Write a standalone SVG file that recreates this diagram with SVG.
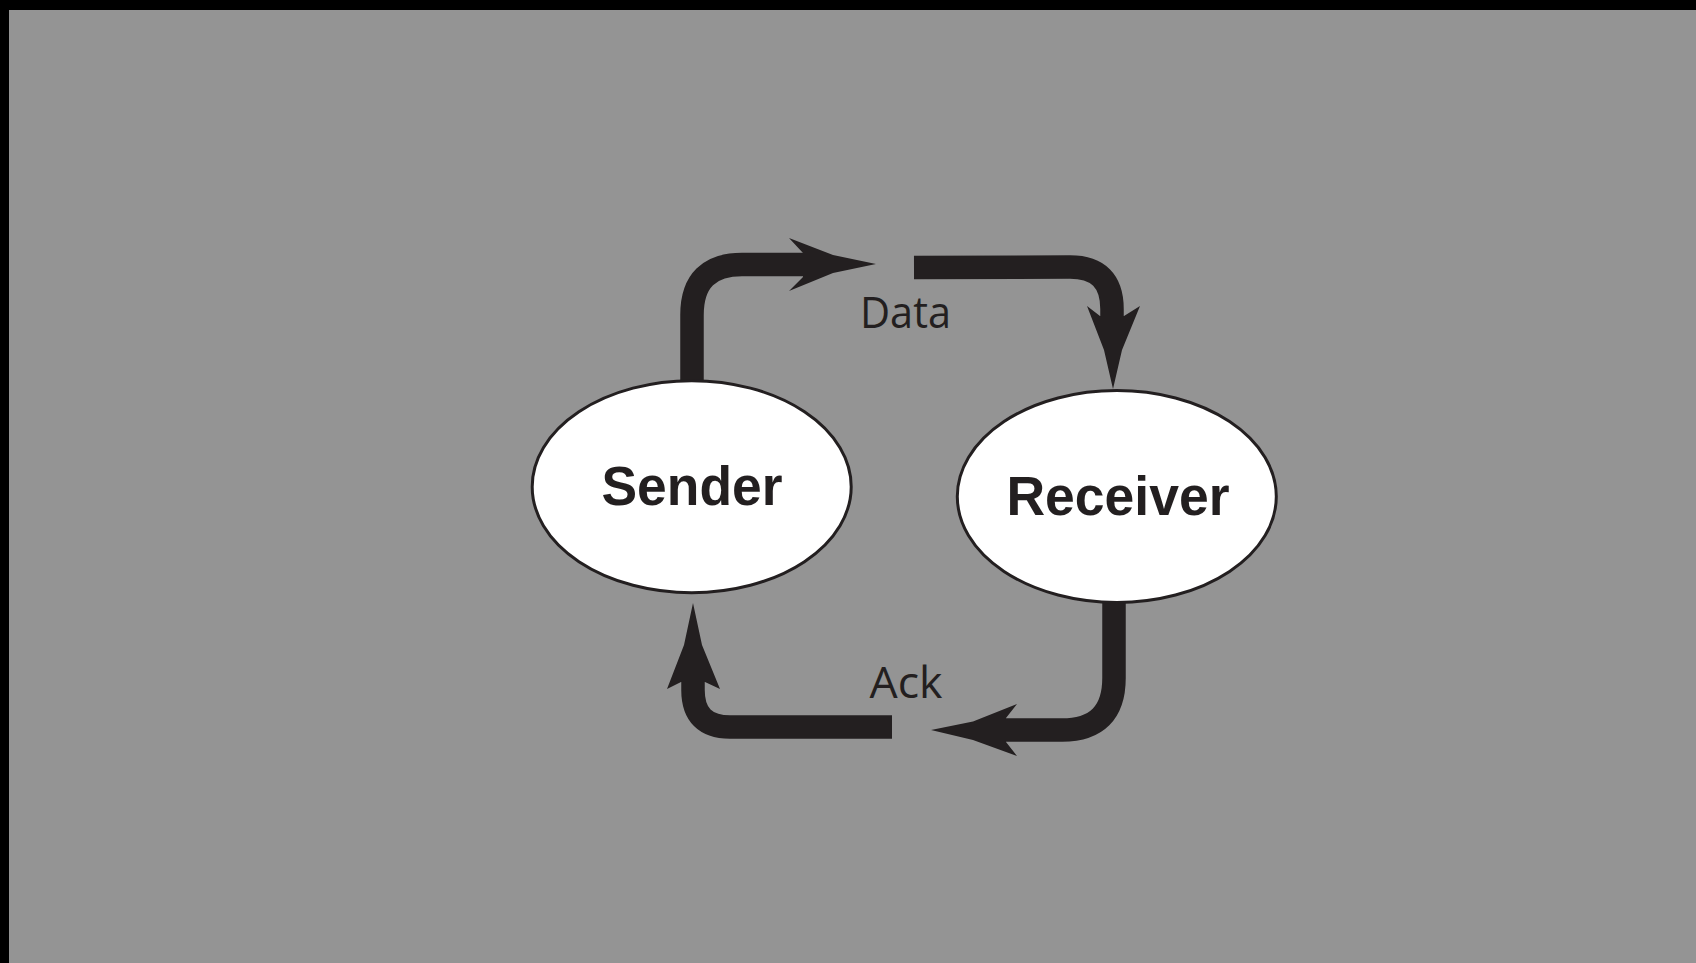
<svg xmlns="http://www.w3.org/2000/svg" width="1696" height="963" viewBox="0 0 1696 963">
<style>
.conn{fill:none;stroke:#231f20;stroke-width:23.5;stroke-linejoin:round}
.head{fill:#231f20;stroke:none}
.node{fill:#ffffff;stroke:#231f20;stroke-width:3}
.nlabel{font-family:"Liberation Sans",Arial,sans-serif;font-weight:bold;font-size:55px;fill:#231f20;text-anchor:middle}
.elabel{font-family:"Open Sans","Liberation Sans",sans-serif;font-size:43px;fill:#231f20;text-anchor:middle}
</style>
<rect x="0" y="0" width="1696" height="963" fill="#000000"/>
<rect x="9" y="10" width="1687" height="953" fill="#949494"/>
<g id="connectors">
  <g id="data-out">
    <path class="conn" d="M692,384 L692,315 Q692,264 743,264.5 L815,264.5"/>
    <path class="head" d="M876,264 L833,255 L789,238 L803,253 L803,277 L789,291 L833,273 Z"/>
  </g>
  <g id="data-in">
    <path class="conn" d="M914,267.5 L1070,267 Q1112,267 1112,309 L1112,330"/>
    <path class="head" d="M1113,389 L1104,350 L1087,306 L1100,316 L1124,316 L1140,306 L1122,350 Z"/>
  </g>
  <g id="ack-out">
    <path class="conn" d="M1114,600 L1114,678 Q1114,730 1062,730 L995,730"/>
    <path class="head" d="M931,730 L973,721.5 L1017,704 L1006,718 L1006,742 L1017,756 L973,740 Z"/>
  </g>
  <g id="ack-in">
    <path class="conn" d="M693,672 L693,690 Q693,727 730,727 L892,727"/>
    <path class="head" d="M693,603 L684,645 L667,689 L681,682 L705,682 L720,689 L702,645 Z"/>
  </g>
  <text class="elabel" x="905.5" y="328" textLength="91" lengthAdjust="spacingAndGlyphs">Data</text>
  <text class="elabel" x="906" y="698" textLength="73" lengthAdjust="spacingAndGlyphs">Ack</text>
</g>
<g id="sender">
  <ellipse class="node" cx="691.7" cy="486.7" rx="159.5" ry="106"/>
  <text class="nlabel" x="692" y="505" textLength="181" lengthAdjust="spacingAndGlyphs">Sender</text>
</g>
<g id="receiver">
  <ellipse class="node" cx="1116.8" cy="496.5" rx="159.5" ry="106"/>
  <text class="nlabel" x="1118" y="515" textLength="223" lengthAdjust="spacingAndGlyphs">Receiver</text>
</g>
</svg>
